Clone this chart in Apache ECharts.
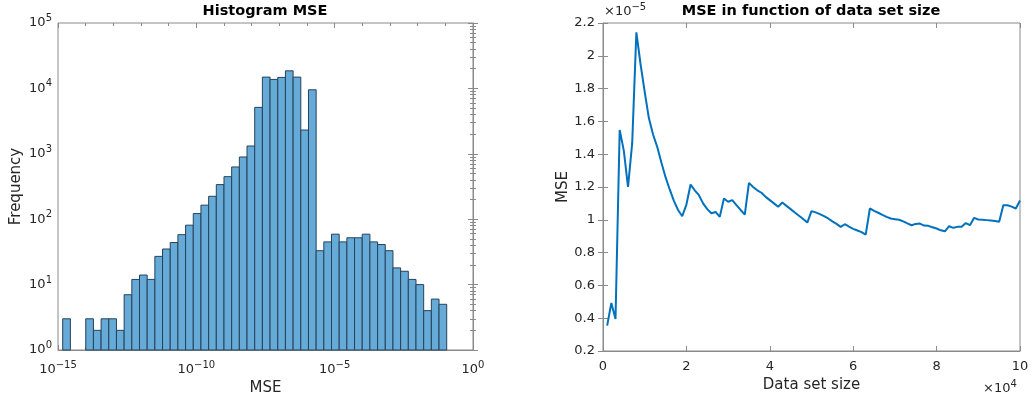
<!DOCTYPE html>
<html>
<head>
<meta charset="utf-8">
<script src="https://cdn.jsdelivr.net/npm/echarts@6/dist/echarts.min.js"></script>
<style>
html, body { margin: 0; padding: 0; background: #fff; }
#main { width: 1032px; height: 401px; }
</style>
</head>
<body>
<div id="main"></div>
<script>
// left: histogram of MSE, bins are equal in log10 space
var histStart = -14.83;   // log10 of first bin edge
var histWidth = 0.2776;   // bin width in decades
var histCounts = [3, 0, 0, 3, 2, 3, 3, 2, 7, 12,
	14, 12, 27, 35, 44, 58, 81, 122, 164, 224,
	338, 447, 629, 894, 1316, 5130, 14880, 13720, 14720, 18570,
	14880, 2310, 9520, 33, 45, 59, 45, 52, 52, 59,
	45, 41, 33, 18, 16, 12, 10, 4, 6, 5];

// right: MSE against data set size
var dataSize = [0.1, 0.2, 0.3, 0.4, 0.5, 0.6, 0.7, 0.8, 0.9, 1.0,
	1.1, 1.2, 1.3, 1.4, 1.5, 1.6, 1.7, 1.8, 1.9, 2.0,
	2.1, 2.2, 2.3, 2.4, 2.5, 2.6, 2.7, 2.8, 2.9, 3.0,
	3.1, 3.2, 3.3, 3.4, 3.5, 3.6, 3.7, 3.8, 3.9, 4.0,
	4.1, 4.2, 4.3, 4.4, 4.5, 4.6, 4.7, 4.8, 4.9, 5.0,
	5.1, 5.2, 5.3, 5.4, 5.5, 5.6, 5.7, 5.8, 5.9, 6.0,
	6.1, 6.2, 6.3, 6.4, 6.5, 6.6, 6.7, 6.8, 6.9, 7.0,
	7.1, 7.2, 7.3, 7.4, 7.5, 7.6, 7.7, 7.8, 7.9, 8.0,
	8.1, 8.2, 8.3, 8.4, 8.5, 8.6, 8.7, 8.8, 8.9, 9.0,
	9.1, 9.2, 9.3, 9.4, 9.5, 9.6, 9.7, 9.8, 9.9, 10.0]; // x 10^4
var mseValue = [0.355, 0.493, 0.395, 1.548, 1.42, 1.20, 1.467, 2.143, 1.95, 1.78,
	1.62, 1.52, 1.445, 1.35, 1.26, 1.185, 1.115, 1.06, 1.022, 1.093,
	1.215, 1.18, 1.15, 1.10, 1.065, 1.04, 1.048, 1.018, 1.13, 1.11,
	1.12, 1.09, 1.06, 1.032, 1.225, 1.20, 1.18, 1.165, 1.14, 1.12,
	1.10, 1.08, 1.105, 1.085, 1.065, 1.045, 1.025, 1.005, 0.983, 1.053,
	1.045, 1.035, 1.022, 1.008, 0.99, 0.975, 0.957, 0.973, 0.958, 0.945,
	0.935, 0.925, 0.91, 1.069, 1.055, 1.043, 1.03, 1.018, 1.008, 1.004,
	1.0, 0.99, 0.978, 0.967, 0.975, 0.977, 0.965, 0.963, 0.955, 0.947,
	0.936, 0.93, 0.961, 0.951, 0.957, 0.957, 0.98, 0.967, 1.012, 1.002,
	1.0, 0.998, 0.996, 0.992, 0.988, 1.089, 1.089, 1.08, 1.069, 1.118]; // x 10^-5

var FONT = 'DejaVu Sans';
var TXT = '#262626';
var BOX = '#8a8a8a';
var MINUS = '\u2212';

var powRich = {
	b : { fontSize : 13, color : TXT, fontFamily : FONT },
	s : { fontSize : 10, color : TXT, fontFamily : FONT, padding : [ 0, 0, 9, 0 ] }
};
function powLabel(exp) {
	var e = exp < 0 ? MINUS + (-exp) : String(exp);
	return '{b|10}{s|' + e + '}';
}

var histData = [];
for (var i = 0; i < histCounts.length; i++) {
	if (histCounts[i] > 0) {
		histData.push([histStart + i * histWidth, histStart + (i + 1) * histWidth, histCounts[i]]);
	}
}
var lineData = [];
for (var j = 0; j < dataSize.length; j++) {
	lineData.push([dataSize[j], mseValue[j]]);
}

function renderBar(params, api) {
	var p0 = api.coord([api.value(0), api.value(2)]);
	var p1 = api.coord([api.value(1), 1]);
	return {
		type : 'rect',
		shape : { x : p0[0], y : p0[1], width : p1[0] - p0[0], height : p1[1] - p0[1] },
		style : { fill : '#66aad7', stroke : '#26425a', lineWidth : 1 }
	};
}

var tickStyle = { show : true, inside : true, length : 5, lineStyle : { color : BOX, width : 1 } };
var minorStyle = { show : true, length : 3, lineStyle : { color : BOX } };
var lineStyleBox = { show : true, lineStyle : { color : BOX, width : 1 } };
var nameStyle = { fontSize : 15, color : TXT, fontFamily : FONT };
var tickText = { fontSize : 13, color : TXT, fontFamily : FONT };
var supRich = {
	a : { fontSize : 13, fontFamily : FONT, fill : TXT },
	s : { fontSize : 10, fontFamily : FONT, fill : TXT, padding : [ 0, 0, 9, 0 ] }
};

var option = {
	animation : false,
	backgroundColor : '#fff',
	textStyle : { fontFamily : FONT },
	grid : [ {
		left : 58, top : 23, width : 415, height : 327,
		show : true, borderColor : BOX, borderWidth : 1
	}, {
		left : 603, top : 23, width : 417, height : 328,
		show : true, borderColor : BOX, borderWidth : 1
	} ],
	xAxis : [ {
		gridIndex : 0, type : 'value', min : -15, max : 0, interval : 5,
		name : 'MSE', nameLocation : 'middle', nameGap : 25, nameTextStyle : nameStyle,
		axisLine : lineStyleBox,
		axisTick : tickStyle,
		minorTick : Object.assign({ splitNumber : 5 }, minorStyle),
		splitLine : { show : false },
		axisLabel : { margin : 10, formatter : function(v) { return powLabel(v); }, rich : powRich }
	}, {
		gridIndex : 0, type : 'value', min : -15, max : 0, interval : 5, position : 'top',
		axisLine : { show : false },
		axisTick : tickStyle,
		minorTick : Object.assign({ splitNumber : 5 }, minorStyle),
		splitLine : { show : false },
		axisLabel : { show : false }
	}, {
		gridIndex : 1, type : 'value', min : 0, max : 10, interval : 2,
		name : 'Data set size', nameLocation : 'middle', nameGap : 25, nameTextStyle : nameStyle,
		axisLine : lineStyleBox,
		axisTick : tickStyle,
		splitLine : { show : false },
		axisLabel : Object.assign({ margin : 9 }, tickText)
	}, {
		gridIndex : 1, type : 'value', min : 0, max : 10, interval : 2, position : 'top',
		axisLine : { show : false },
		axisTick : tickStyle,
		splitLine : { show : false },
		axisLabel : { show : false }
	} ],
	yAxis : [ {
		gridIndex : 0, type : 'log', logBase : 10, min : 1, max : 100000,
		name : 'Frequency', nameLocation : 'middle', nameGap : 34, nameRotate : 90, nameTextStyle : nameStyle,
		axisLine : lineStyleBox,
		axisTick : tickStyle,
		minorTick : Object.assign({ splitNumber : 9 }, minorStyle),
		splitLine : { show : false },
		axisLabel : {
			margin : 6,
			formatter : function(v) { return powLabel(Math.round(Math.log10(v))); },
			rich : powRich
		}
	}, {
		gridIndex : 0, type : 'log', logBase : 10, min : 1, max : 100000, position : 'right',
		axisLine : { show : false },
		axisTick : tickStyle,
		minorTick : Object.assign({ splitNumber : 9 }, minorStyle),
		splitLine : { show : false },
		axisLabel : { show : false }
	}, {
		gridIndex : 1, type : 'value', min : 0.2, max : 2.2, interval : 0.2,
		name : 'MSE', nameLocation : 'middle', nameGap : 26, nameRotate : 90, nameTextStyle : nameStyle,
		axisLine : lineStyleBox,
		axisTick : tickStyle,
		splitLine : { show : false },
		axisLabel : Object.assign({
			margin : 8,
			formatter : function(v) { return String(parseFloat(v.toFixed(1))); }
		}, tickText)
	}, {
		gridIndex : 1, type : 'value', min : 0.2, max : 2.2, interval : 0.2, position : 'right',
		axisLine : { show : false },
		axisTick : tickStyle,
		splitLine : { show : false },
		axisLabel : { show : false }
	} ],
	graphic : [ {
		type : 'text', x : 265, y : 4,
		style : { text : 'Histogram MSE', fontSize : 14.5, fontWeight : 'bold', fill : '#000', fontFamily : FONT, align : 'center' }
	}, {
		type : 'text', x : 811, y : 4,
		style : { text : 'MSE in function of data set size', fontSize : 14.5, fontWeight : 'bold', fill : '#000', fontFamily : FONT, align : 'center' }
	}, {
		type : 'text', x : 604, y : 2,
		style : { text : '{a|\u00d710}{s|' + MINUS + '5}', fill : TXT, rich : supRich }
	}, {
		type : 'text', x : 983, y : 379,
		style : { text : '{a|\u00d710}{s|4}', fill : TXT, rich : supRich }
	} ],
	series : [ {
		type : 'custom',
		xAxisIndex : 0, yAxisIndex : 0,
		renderItem : renderBar,
		encode : { x : [ 0, 1 ], y : 2 },
		data : histData
	}, {
		type : 'line',
		xAxisIndex : 2, yAxisIndex : 2,
		data : lineData,
		symbol : 'none',
		lineStyle : { color : '#0072bd', width : 2 }
	} ]
};

var chart = echarts.init(document.getElementById('main'));
chart.setOption(option);
</script>
</body>
</html>
